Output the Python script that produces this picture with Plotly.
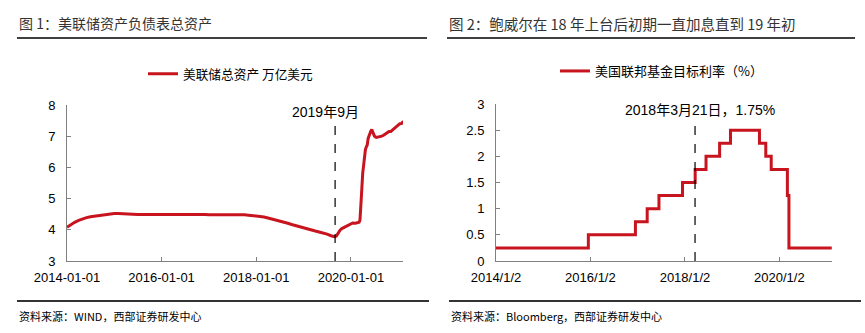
import plotly.graph_objects as go

W, H = 865, 333

# ---------------- Data ----------------
fed_dates = [
    "2014-01-01","2014-02-01","2014-03-01","2014-04-01","2014-05-01","2014-06-01",
    "2014-07-01","2014-08-01","2014-09-01","2014-10-01","2014-11-01","2014-12-01",
    "2015-01-01","2015-02-01","2015-03-01","2015-04-01","2015-05-01","2015-06-01",
    "2015-07-01","2015-08-01","2015-09-01","2015-10-01","2015-11-01","2015-12-01",
    "2016-01-01","2016-02-01","2016-03-01","2016-04-01","2016-05-01","2016-06-01",
    "2016-07-01","2016-08-01","2016-09-01","2016-10-01","2016-11-01","2016-12-01",
    "2017-01-01","2017-02-01","2017-03-01","2017-04-01","2017-05-01","2017-06-01",
    "2017-07-01","2017-08-01","2017-09-01","2017-10-01","2017-11-01","2017-12-01",
    "2018-01-01","2018-02-01","2018-03-01","2018-04-01","2018-05-01","2018-06-01",
    "2018-07-01","2018-08-01","2018-09-01","2018-10-01","2018-11-01","2018-12-01",
    "2019-01-01","2019-02-01","2019-03-01","2019-04-01","2019-05-01","2019-06-01",
    "2019-07-01","2019-08-01","2019-08-28","2019-09-11","2019-09-25","2019-10-09",
    "2019-10-23","2019-11-06","2019-11-20","2019-12-04","2019-12-18","2020-01-01",
    "2020-01-15","2020-02-05","2020-02-19","2020-03-04","2020-03-11","2020-03-18",
    "2020-03-25","2020-04-01","2020-04-08","2020-04-15","2020-04-22","2020-04-29",
    "2020-05-06","2020-05-13","2020-05-20","2020-05-27","2020-06-03","2020-06-10",
    "2020-06-17","2020-06-24","2020-07-01","2020-07-15","2020-07-29","2020-08-12",
    "2020-08-26","2020-09-09","2020-09-23","2020-10-07","2020-10-21","2020-11-04",
    "2020-11-18","2020-12-02","2020-12-16","2020-12-30","2021-01-13","2021-01-27",
    "2021-02-03","2021-02-10",
]
fed_assets = [
    4.08, 4.17, 4.24, 4.30, 4.35, 4.39, 4.42, 4.44, 4.45, 4.47, 4.49, 4.51,
    4.52, 4.52, 4.51, 4.50, 4.50, 4.50, 4.49, 4.49, 4.49, 4.49, 4.50, 4.50,
    4.51, 4.50, 4.50, 4.50, 4.50, 4.50, 4.50, 4.49, 4.49, 4.49, 4.49, 4.49,
    4.48, 4.48, 4.49, 4.50, 4.50, 4.49, 4.49, 4.49, 4.49, 4.48, 4.47, 4.46,
    4.45, 4.43, 4.41, 4.38, 4.35, 4.32, 4.29, 4.25, 4.21, 4.17, 4.13, 4.10,
    4.06, 4.03, 3.99, 3.96, 3.93, 3.90, 3.86, 3.81, 3.78, 3.80, 3.92, 3.99,
    4.04, 4.07, 4.09, 4.11, 4.16, 4.19,
    4.22, 4.21, 4.22, 4.24, 4.31, 4.67,
    5.30, 5.81, 6.08, 6.37, 6.57, 6.66,
    6.72, 6.93, 7.04, 7.10, 7.17, 7.21,
    7.14, 7.08, 7.00, 6.96, 6.97, 6.98,
    7.00, 7.03, 7.06, 7.11, 7.15, 7.15,
    7.20, 7.25, 7.29, 7.35, 7.40, 7.41,
    7.45, 7.44,
]

rate_dates = [
    "2014-01-02","2015-12-17","2016-12-15","2017-03-16","2017-06-15","2017-12-14",
    "2018-03-22","2018-06-14","2018-09-27","2018-12-20","2019-08-01","2019-09-19",
    "2019-10-31","2020-03-04","2020-03-16","2021-02-10",
]
fed_rate = [0.25, 0.5, 0.75, 1.0, 1.25, 1.5, 1.75, 2.0, 2.25, 2.5, 2.25, 2.0,
            1.75, 1.25, 0.25, 0.25]

left_ticks = ["2014-01-01", "2016-01-01", "2018-01-01", "2020-01-01"]
left_ticktext = ["2014-01-01", "2016-01-01", "2018-01-01", "2020-01-01"]
right_ticks = ["2014-01-02", "2016-01-02", "2018-01-02", "2020-01-02"]
right_ticktext = ["2014/1/2", "2016/1/2", "2018/1/2", "2020/1/2"]

RED = "#C8141E"
AXC = "#808080"
TICKFONT = dict(family="Liberation Sans, Arial", size=13, color="#000000")
CJK = "Noto Sans CJK SC"

def px_x(p):
    return p / W

def px_y(p):
    return 1 - p / H

fig = go.Figure()
fig.add_trace(go.Scatter(
    x=fed_dates, y=fed_assets, mode="lines", name="美联储总资产 万亿美元",
    line=dict(color=RED, width=3), xaxis="x", yaxis="y", legend="legend",
))
fig.add_trace(go.Scatter(
    x=rate_dates, y=fed_rate, mode="lines", name="美国联邦基金目标利率（%）",
    line=dict(color=RED, width=3, shape="hv"), xaxis="x2", yaxis="y2", legend="legend2",
))

axis_common = dict(showline=True, linecolor=AXC, linewidth=1, ticks="inside",
                   ticklen=4, tickcolor=AXC, showgrid=False, zeroline=False,
                   tickfont=TICKFONT, automargin=False)

fig.update_layout(
    width=W, height=H, margin=dict(l=0, r=0, t=0, b=0, autoexpand=False),
    paper_bgcolor="white", plot_bgcolor="white",
    xaxis=dict(domain=[px_x(67), px_x(403)], type="date",
               range=["2014-01-01", "2021-02-06"], ticklabelstandoff=4,
               tickvals=left_ticks, ticktext=left_ticktext, anchor="y", **axis_common),
    yaxis=dict(domain=[px_y(261), px_y(105)], range=[3, 8], dtick=1,
               ticklabelstandoff=8, anchor="x", **axis_common),
    xaxis2=dict(domain=[px_x(496), px_x(832)], type="date",
                range=["2014-01-02", "2021-02-12"], ticklabelstandoff=4,
                tickvals=right_ticks, ticktext=right_ticktext, anchor="y2", **axis_common),
    yaxis2=dict(domain=[px_y(261), px_y(104)], range=[0, 3], dtick=0.5,
                ticklabelstandoff=8, anchor="x2", **axis_common),
    legend=dict(x=px_x(143), y=px_y(74), xanchor="left", yanchor="middle",
                font=dict(family=CJK, size=12.7, color="#000"), bgcolor="rgba(0,0,0,0)",
                itemwidth=30, tracegroupgap=0),
    legend2=dict(x=px_x(555), y=px_y(71), xanchor="left", yanchor="middle",
                 font=dict(family=CJK, size=13, color="#000"), bgcolor="rgba(0,0,0,0)",
                 itemwidth=30, tracegroupgap=0),
    showlegend=True,
)

shapes = [
    # header underlines
    dict(type="line", xref="paper", yref="paper", x0=px_x(17), x1=px_x(427),
         y0=px_y(38), y1=px_y(38), line=dict(color="#000", width=1.5)),
    dict(type="line", xref="paper", yref="paper", x0=px_x(447), x1=px_x(855),
         y0=px_y(38), y1=px_y(38), line=dict(color="#000", width=1.5)),
    # footer lines
    dict(type="line", xref="paper", yref="paper", x0=px_x(17), x1=px_x(429),
         y0=px_y(301), y1=px_y(301), line=dict(color="#333", width=2)),
    dict(type="line", xref="paper", yref="paper", x0=px_x(449), x1=px_x(861),
         y0=px_y(301), y1=px_y(301), line=dict(color="#333", width=2)),
    # dashed markers
    dict(type="line", xref="x", yref="y", x0="2019-09-01", x1="2019-09-01",
         y0=3, y1=7.36, line=dict(color="#000", width=1.2, dash="dash")),
    dict(type="line", xref="x2", yref="y2", x0="2018-03-21", x1="2018-03-21",
         y0=0, y1=2.64, line=dict(color="#000", width=1.2, dash="dash")),
]
fig.update_layout(shapes=shapes)

annotations = [
    dict(text="图 1：美联储资产负债表总资产", x=px_x(17), y=px_y(23), xref="paper", yref="paper",
         xanchor="left", yanchor="middle", showarrow=False,
         font=dict(family=CJK, size=14, color="#333333")),
    dict(text="图 2：鲍威尔在 18 年上台后初期一直加息直到 19 年初", x=px_x(447), y=px_y(23),
         xref="paper", yref="paper", xanchor="left", yanchor="middle", showarrow=False,
         font=dict(family=CJK, size=14.5, color="#333333")),
    dict(text="资料来源：WIND，西部证券研发中心", x=px_x(17), y=px_y(316), xref="paper",
         yref="paper", xanchor="left", yanchor="middle", showarrow=False,
         font=dict(family=CJK, size=11, color="#000")),
    dict(text="资料来源：Bloomberg，西部证券研发中心", x=px_x(449), y=px_y(316), xref="paper",
         yref="paper", xanchor="left", yanchor="middle", showarrow=False,
         font=dict(family=CJK, size=11, color="#000")),
    dict(text="2019年9月", x=px_x(325), y=px_y(112), xref="paper", yref="paper",
         xanchor="center", yanchor="middle", showarrow=False,
         font=dict(family="Liberation Sans, " + CJK, size=14, color="#000")),
    dict(text="2018年3月21日，1.75%", x=px_x(700), y=px_y(110), xref="paper", yref="paper",
         xanchor="center", yanchor="middle", showarrow=False,
         font=dict(family="Liberation Sans, " + CJK, size=14, color="#000")),
]
fig.update_layout(annotations=annotations)

fig.write_html("out.html")
